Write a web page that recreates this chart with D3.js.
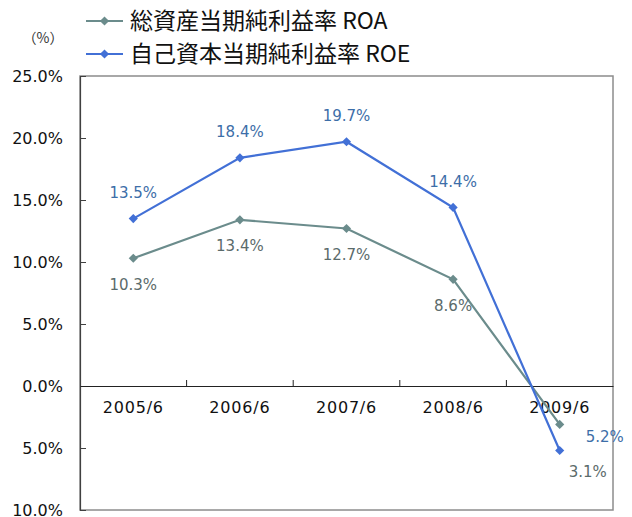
<!DOCTYPE html>
<html>
<head>
<meta charset="utf-8">
<script src="https://cdn.jsdelivr.net/npm/d3@7"></script>
<style>
  body { margin: 0; background: #fff; }
  svg text { font-family: "DejaVu Sans", sans-serif; }
  .legend text { font-family: "Noto Sans CJK JP", sans-serif; }
</style>
</head>
<body>
<div id="chart"></div>
<script>
// data
var categories = ["2005/6", "2006/6", "2007/6", "2008/6", "2009/6"];
var roaValues = [10.3, 13.4, 12.7, 8.6, -3.1];
var roeValues = [13.5, 18.4, 19.7, 14.4, -5.2];
var seriesNames = ["総資産当期純利益率 ROA", "自己資本当期純利益率 ROE"];
var yTicks = [-10, -5, 0, 5, 10, 15, 20, 25];

var width = 632, height = 517;
var plot = {left: 80, right: 613, top: 76, bottom: 510};

var svg = d3.select("#chart")
  .append("svg")
    .attr("width", width)
    .attr("height", height);

var x = d3.scaleBand().domain(categories).range([plot.left, plot.right]);
var y = d3.scaleLinear().domain([-10, 25]).range([plot.bottom, plot.top]);

var fmt = function(d) { return d3.format(".1f")(Math.abs(d)) + "%"; };

// plot border
svg.append("rect")
  .attr("x", plot.left)
  .attr("y", plot.top)
  .attr("width", plot.right - plot.left)
  .attr("height", plot.bottom - plot.top)
  .attr("fill", "none")
  .attr("stroke", "#8c8c8c")
  .attr("stroke-width", 1.5);

// y axis
var yAxis = svg.append("g")
  .attr("transform", "translate(" + plot.left + ",0)")
  .call(d3.axisLeft(y).tickValues(yTicks).tickSizeInner(-6).tickSizeOuter(0)
    .tickPadding(17).tickFormat(fmt));
yAxis.select(".domain").attr("stroke", "#404040").attr("stroke-width", 1.2);
yAxis.selectAll(".tick line").attr("stroke", "#404040");
yAxis.selectAll("text").attr("font-size", 16).attr("fill", "#111");

// x axis on zero line
var y0 = y(0);
var xAxis = svg.append("g")
  .attr("transform", "translate(0," + y0 + ")")
  .call(d3.axisBottom(x).tickSize(0).tickPadding(16));
xAxis.select(".domain").attr("stroke", "#222").attr("stroke-width", 1.2);
xAxis.selectAll("text").attr("font-size", 16).attr("fill", "#111")
  .attr("letter-spacing", 0.8);

// category boundary ticks pointing up
xAxis.selectAll(".bound")
  .data(categories.slice(1))
  .enter().append("line")
  .attr("class", "bound")
  .attr("x1", function(d) { return x(d); })
  .attr("x2", function(d) { return x(d); })
  .attr("y1", -6)
  .attr("y2", 0)
  .attr("stroke", "#222");

svg.append("text")
  .attr("x", 43)
  .attr("y", 38)
  .attr("dy", "0.35em")
  .attr("text-anchor", "middle")
  .attr("font-size", 14)
  .attr("fill", "#333")
  .style("font-family", "'Noto Sans CJK JP', sans-serif")
  .text("（%）");

var series = [
  {name: seriesNames[0], values: roaValues, line: "#6b8c8c", label: "#5b6b6b", above: false},
  {name: seriesNames[1], values: roeValues, line: "#4270d6", label: "#3d6ea8", above: true}
];

var line = d3.line()
  .x(function(d, i) { return x(categories[i]) + x.bandwidth() / 2; })
  .y(function(d) { return y(d); });

var diamond = d3.symbol().type(d3.symbolSquare).size(42);

series.forEach(function(s) {
  svg.append("path")
    .datum(s.values)
    .attr("fill", "none")
    .attr("stroke", s.line)
    .attr("stroke-width", 2.2)
    .attr("d", line);

  svg.selectAll(null)
    .data(s.values)
    .enter().append("path")
    .attr("d", diamond)
    .attr("fill", s.line)
    .attr("transform", function(d, i) {
      return "translate(" + (x(categories[i]) + x.bandwidth() / 2) + "," + y(d) + ") rotate(45)";
    });

  svg.selectAll(null)
    .data(s.values)
    .enter().append("text")
    .attr("x", function(d, i) {
      var cx = x(categories[i]) + x.bandwidth() / 2;
      if (i === s.values.length - 1) return cx + (s.above ? 45 : 28);
      return cx;
    })
    .attr("y", function(d, i) {
      var cy = y(d);
      if (i === s.values.length - 1) return cy + (s.above ? -14 : 47);
      return cy + (s.above ? -26 : 26);
    })
    .attr("dy", "0.36em")
    .attr("text-anchor", "middle")
    .attr("font-size", 15)
    .attr("fill", s.label)
    .text(fmt);
});

// legend
var legend = svg.append("g").attr("class", "legend");
var legendRows = legend.selectAll("g")
  .data(series)
  .enter().append("g")
  .attr("transform", function(d, i) { return "translate(86," + (21 + i * 33) + ")"; });

legendRows.append("line")
  .attr("x1", 0).attr("x2", 37)
  .attr("stroke", function(d) { return d.line; })
  .attr("stroke-width", 2.2);
legendRows.append("path")
  .attr("d", diamond)
  .attr("transform", "translate(18.5,0) rotate(45)")
  .attr("fill", function(d) { return d.line; });
legendRows.append("text")
  .attr("x", 44)
  .attr("dy", "0.36em")
  .attr("font-size", 23)
  .attr("fill", "#111")
  .text(function(d) { return d.name; });
</script>
</body>
</html>
